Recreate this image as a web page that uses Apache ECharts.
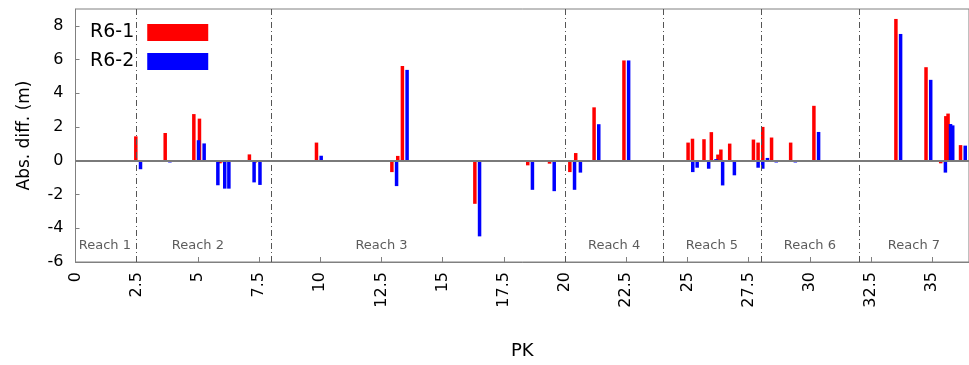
<!DOCTYPE html>
<html lang="en">
<head>
    <meta charset="utf-8">
    <title>Abs. diff.</title>
    <script src="https://cdn.jsdelivr.net/npm/echarts@6/dist/echarts.min.js"></script>
    <style type="text/css">
        html, body { margin: 0; padding: 0; background: #fff; }
        #container { width: 969px; height: 365px; }
    </style>
</head>
<body>
<div id="container"></div>
<script>
    // PK (km) of each station, and the two series
    var pk  = [2.56, 3.76, 4.93, 5.16, 5.72, 6.0, 6.17, 7.2, 7.44, 9.94,
               13.02, 13.26, 13.45, 16.41, 18.57, 19.46, 20.29, 20.53, 21.28, 22.5,
               25.12, 25.3, 25.77, 26.07, 26.34, 26.46, 26.82, 27.79, 27.98, 28.17,
               28.53, 29.31, 30.26, 33.61, 34.84, 35.44, 35.65, 35.74, 36.25];
    var r61 = [1.45, 1.65, 2.77, 2.5, -0.05, -0.15, -0.1, 0.38, -0.1, 1.08,
               -0.67, 0.29, 5.62, -2.55, -0.27, -0.17, -0.67, 0.46, 3.17, 5.95,
               1.08, 1.31, 1.28, 1.7, 0.37, 0.67, 1.02, 1.26, 1.08, 2.01,
               1.38, 1.08, 3.26, 8.41, 5.55, -0.15, 2.65, 2.8, 0.93];
    var r62 = [-0.5, -0.1, 1.22, 1.03, -1.45, -1.65, -1.65, -1.28, -1.43, 0.3,
               -1.5, 0.05, 5.39, -4.48, -1.72, -1.8, -1.72, -0.7, 2.17, 5.95,
               -0.67, -0.41, -0.47, 0.1, -1.46, -0.05, -0.86, -0.41, -0.47, 0.17,
               -0.1, -0.1, 1.71, 7.52, 4.8, -0.7, 2.18, 2.1, 0.9];

    // reach boundaries and labels
    var reachBounds = [2.5, 8, 20, 24, 28, 32];
    var reachNames  = ['Reach 1', 'Reach 2', 'Reach 3', 'Reach 4', 'Reach 5', 'Reach 6', 'Reach 7'];
    var reachPk     = [1.2, 5, 12.5, 22, 26, 30, 34.25];
    var reachLabelY = -5.05;

    var font = 'DejaVu Sans';

    var dom = document.getElementById("container");
    var myChart = echarts.init(dom);

    function pairs(vals) {
        var out = [];
        for (var i = 0; i < pk.length; i++) out.push([pk[i], vals[i]]);
        return out;
    }

    var option = {
        animation: false,
        backgroundColor: '#fff',
        textStyle: { fontFamily: font },
        legend: {
            data: ['R6-1', 'R6-2'],
            orient: 'vertical',
            align: 'right',
            left: 90,
            top: 23,
            padding: 0,
            itemGap: 10,
            itemWidth: 61,
            itemHeight: 17,
            icon: 'rect',
            textStyle: { fontSize: 19, color: '#000', fontFamily: font, padding: [0, 8, 0, 0] }
        },
        grid: {
            left: 75.5,
            top: 9,
            width: 898.6,
            height: 253,
            show: true,
            borderColor: '#808080',
            borderWidth: 1
        },
        xAxis: {
            type: 'value',
            min: 0,
            max: 36.5,
            interval: 2.5,
            name: 'PK',
            nameLocation: 'middle',
            nameGap: 80,
            nameTextStyle: { fontSize: 18, color: '#000', fontFamily: font },
            axisLine: { onZero: false, lineStyle: { color: '#808080', width: 1 } },
            axisTick: { inside: true, length: 5, lineStyle: { color: '#808080' } },
            axisLabel: { rotate: 90, margin: 10, fontSize: 16, color: '#000', fontFamily: font, showMaxLabel: false },
            splitLine: { show: false }
        },
        yAxis: {
            type: 'value',
            min: -6,
            max: 9,
            interval: 2,
            name: 'Abs. diff. (m)',
            nameLocation: 'middle',
            nameGap: 42,
            nameTextStyle: { fontSize: 17, color: '#000', fontFamily: font },
            axisLine: { show: true, lineStyle: { color: '#808080', width: 1 } },
            axisTick: { inside: true, length: 4, lineStyle: { color: '#808080' } },
            axisLabel: { margin: 12, fontSize: 16, color: '#000', fontFamily: font, showMaxLabel: false },
            splitLine: { show: false }
        },
        series: [
            {
                name: 'reaches',
                type: 'scatter',
                z: 1,
                silent: true,
                symbolSize: 0,
                data: reachPk.map(function (p, i) { return { value: [p, reachLabelY], name: reachNames[i] }; }),
                label: {
                    show: true,
                    position: 'inside',
                    formatter: '{b}',
                    fontSize: 13,
                    color: '#333',
                    fontFamily: font
                },
                markLine: {
                    silent: true,
                    symbol: 'none',
                    label: { show: false },
                    data: reachBounds.map(function (b) {
                        return { xAxis: b, lineStyle: { color: '#555', width: 1, type: [6, 3, 1, 3] } };
                    }).concat([{ yAxis: 0, lineStyle: { color: '#7a7a7a', width: 2, type: 'solid' } }])
                }
            },
            {
                name: 'R6-1',
                type: 'bar',
                z: 2,
                barWidth: 3.5,
                itemStyle: { color: '#ff0000' },
                data: pairs(r61)
            },
            {
                name: 'R6-2',
                type: 'bar',
                z: 3,
                barWidth: 3.5,
                barGap: '34%',
                itemStyle: { color: '#0000ff' },
                data: pairs(r62)
            }
        ]
    };

    myChart.setOption(option, true);
</script>
</body>
</html>
